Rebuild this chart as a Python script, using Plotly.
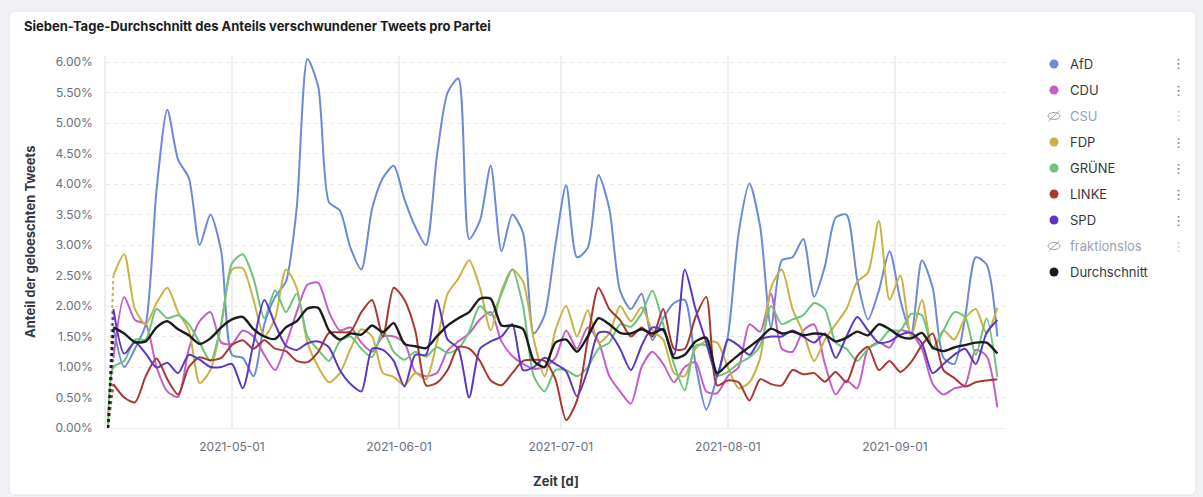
import plotly.graph_objects as go
import pandas as pd

# ---------------- data (values in percent) ----------------
DATES = ["2021-04-08"] + [d.strftime("%Y-%m-%d") for d in
                          pd.date_range("2021-04-09", "2021-09-20", freq="2D")]

AFD = [None,
       1.65, 1.0, 1.3, 1.7, 3.9, 5.22, 4.4, 4.1, 3.0, 3.5, 2.9,
       1.2, 1.15, 0.85, 1.7, 2.15, 2.4, 3.6, 6.05, 5.6, 3.7, 3.57, 2.95, 2.6, 3.6, 4.1, 4.3,
       3.75, 3.3, 3.0, 4.45, 5.5, 5.73, 3.1, 3.4, 4.3, 2.9, 3.5, 3.2, 1.55, 1.85, 3.0,
       3.98, 2.8, 2.95, 4.15, 3.6, 2.25, 1.95, 2.2, 1.44, 1.8, 2.05, 2.1, 1.05, 0.3, 0.85,
       1.5, 3.2, 4.01, 3.3, 1.65, 2.75, 2.8, 3.1, 2.15, 2.65, 3.45, 3.5, 2.43, 1.78, 2.25, 2.9,
       2.1, 1.55, 2.75, 2.3, 1.15, 1.05, 1.8, 2.8, 2.68, 1.5]

CDU = [None,
       1.15, 2.15, 1.77, 1.7, 1.0, 0.6, 0.51, 1.3, 1.75, 1.9, 1.4,
       1.38, 1.6, 1.5, 1.2, 0.95, 1.37, 1.9, 2.35, 2.38, 1.9, 1.6, 1.65, 1.4, 1.25, 1.5, 1.5,
       1.4, 0.92, 0.85, 0.9, 1.27, 1.42, 1.55, 1.78, 1.9, 1.42, 1.18, 1.05, 0.97, 1.0, 1.15,
       1.6, 1.3, 1.65, 1.42, 0.85, 0.6, 0.4, 1.0, 1.25, 1.05, 0.75, 1.0, 1.08, 0.6, 0.57,
       0.85, 1.0, 1.7, 1.58, 2.2, 1.3, 1.25, 1.6, 1.7, 1.05, 0.55, 0.78, 0.65, 1.3, 1.4, 1.32,
       1.6, 1.55, 1.3, 0.72, 0.55, 0.65, 0.7, 1.28, 1.18, 0.34]

FDP = [None,
       2.5, 2.85, 1.95, 1.7, 2.05, 2.3, 1.9, 1.6, 0.74, 0.95, 1.7,
       2.6, 2.62, 2.1, 1.5, 1.8, 2.6, 2.3, 1.4, 1.0, 0.75, 0.9, 1.3, 1.62, 1.5, 0.9, 0.84,
       0.7, 0.9, 0.8, 1.4, 2.2, 2.45, 2.75, 2.3, 1.6, 2.25, 2.6, 2.4, 1.45, 0.85, 1.6,
       2.0, 1.5, 1.93, 1.4, 1.55, 2.0, 1.75, 1.98, 1.6, 1.45, 0.9, 0.85, 1.3, 1.42, 1.4,
       1.0, 0.65, 0.75, 1.15, 2.3, 2.6, 1.95, 1.56, 1.1, 1.45, 1.7, 1.95, 2.4, 2.55, 3.4, 2.1,
       2.5, 1.5, 2.1, 1.3, 1.6, 1.45, 1.8, 1.95, 1.55, 1.97]

GRUENE = [0.0,
          1.0, 1.1, 1.45, 1.45, 1.95, 1.8, 1.85, 1.7, 1.4, 1.1, 1.7,
          2.7, 2.85, 2.45, 1.8, 2.26, 1.9, 2.2, 1.5, 1.28, 1.1, 1.42, 1.5, 1.3, 1.16, 1.6, 1.25,
          1.12, 1.25, 1.17, 1.33, 1.23, 1.3, 1.58, 2.0, 1.85, 2.2, 2.6, 2.0, 0.85, 0.6, 0.95,
          0.95, 0.85, 1.0, 1.3, 1.4, 1.7, 1.66, 1.88, 2.25, 1.7, 1.05, 0.62, 1.35, 1.35, 0.86,
          0.92, 1.06, 1.16, 1.35, 2.0, 1.7, 1.78, 1.85, 2.05, 1.95, 1.4, 1.3, 1.1, 1.3, 1.4, 1.6,
          1.6, 1.87, 1.85, 1.3, 1.6, 1.9, 1.82, 1.2, 1.8, 0.84]

LINKE = [None,
         0.72, 0.5, 0.42, 0.85, 1.14, 0.8, 0.55, 1.0, 1.16, 1.11, 1.15,
         1.36, 1.44, 1.3, 1.44, 1.3, 1.26, 1.1, 1.08, 1.25, 1.56, 1.57, 1.58, 1.9, 2.1, 1.5, 2.3,
         2.1, 1.6, 0.7, 0.74, 0.95, 1.33, 1.3, 1.1, 0.78, 0.7, 0.9, 1.1, 1.12, 1.1, 0.8,
         0.13, 0.45, 1.45, 2.3, 1.95, 1.77, 1.5, 1.65, 1.5, 1.95, 1.3, 1.3, 1.82, 2.15, 0.7,
         0.78, 0.75, 0.45, 0.8, 0.72, 0.7, 0.95, 0.88, 0.9, 0.76, 0.92, 0.75, 1.18, 1.33, 0.95, 1.1,
         0.92, 1.08, 1.36, 1.55, 0.95, 0.82, 0.68, 0.75, 0.78, 0.8]

SPD = [None,
       1.95, 1.22, 1.4, 1.22, 0.99, 1.07, 0.9, 1.2, 1.12, 1.0, 1.0,
       1.05, 0.65, 1.4, 2.1, 1.7, 1.35, 1.28, 1.39, 1.42, 1.32, 0.95, 0.72, 0.6, 1.3, 1.28, 1.1,
       0.68, 1.2, 1.2, 2.1, 1.45, 1.3, 0.5, 1.3, 1.42, 1.5, 1.7, 0.95, 1.0, 1.15, 1.05,
       0.93, 0.52, 0.95, 1.56, 1.56, 1.3, 0.95, 1.35, 1.65, 1.6, 1.2, 2.6, 1.95, 1.4, 0.85,
       1.45, 1.35, 1.2, 1.45, 1.5, 1.5, 1.6, 1.5, 1.4, 1.55, 1.15, 1.5, 1.82, 1.6, 1.4, 1.42,
       1.53, 1.56, 1.39, 0.9, 1.05, 1.2, 1.3, 1.05, 1.56, 1.77]

DURCHSCHNITT = [None,
                1.65, 1.55, 1.41, 1.42, 1.65, 1.75, 1.62, 1.52, 1.38, 1.47, 1.65,
                1.78, 1.82, 1.62, 1.5, 1.46, 1.65, 1.75, 1.96, 1.97, 1.6, 1.45, 1.55, 1.53, 1.68, 1.57, 1.72,
                1.38, 1.34, 1.31, 1.5, 1.68, 1.8, 1.9, 2.12, 2.12, 1.68, 1.68, 1.62, 1.1, 1.0, 1.4,
                1.45, 1.25, 1.5, 1.8, 1.7, 1.56, 1.55, 1.62, 1.55, 1.62, 1.15, 1.2, 1.42, 1.48, 0.9,
                1.05, 1.2, 1.33, 1.47, 1.63, 1.55, 1.58, 1.52, 1.55, 1.53, 1.42, 1.48, 1.58, 1.52, 1.7, 1.62,
                1.5, 1.47, 1.56, 1.32, 1.26, 1.32, 1.36, 1.4, 1.4, 1.22]

SERIES = [
    ("AfD", AFD, "#6b89d9", 2.0),
    ("CDU", CDU, "#c25ec6", 2.0),
    ("FDP", FDP, "#c9b245", 2.0),
    ("GRÜNE", GRUENE, "#6cc47a", 2.0),
    ("LINKE", LINKE, "#a8382f", 2.0),
    ("SPD", SPD, "#5c38c2", 2.0),
    ("Durchschnitt", DURCHSCHNITT, "#1c1c1c", 2.4),
]

LEGEND = [("AfD", "#6b89d9", True), ("CDU", "#c25ec6", True), ("CSU", None, False),
          ("FDP", "#c9b245", True), ("GRÜNE", "#6cc47a", True), ("LINKE", "#a8382f", True),
          ("SPD", "#5c38c2", True), ("fraktionslos", None, False), ("Durchschnitt", "#1c1c1c", True)]

X_RANGE = ["2021-04-07 15:00", "2021-09-21 10:00"]
Y_RANGE = [0, 6.1]

# ---------------- geometry helpers ----------------
W, H = 1203, 497
L, R, T, B = 106, 1005, 56, 428


def px(x):
    return (x - L) / (R - L)


def py(y):
    return (B - y) / (B - T)


fig = go.Figure()

for name, vals, color, lw in SERIES:
    fig.add_trace(go.Scatter(
        x=DATES, y=vals, mode="lines", name=name, showlegend=False,
        line=dict(color=color, width=lw, shape="spline", smoothing=0.7),
        connectgaps=False, hoverinfo="x+y+name"))
    if vals[0] is None:
        fig.add_trace(go.Scatter(
            x=DATES[:2], y=[0, vals[1]], mode="lines", showlegend=False,
            line=dict(color=color, width=lw, dash="3px,3px"), hoverinfo="skip"))

# ---------------- card background ----------------
def rounded_rect(x0, y0, x1, y1, r):
    pts = [
        ("M", [(x0 + r, y0)]), ("L", [(x1 - r, y0)]), ("Q", [(x1, y0), (x1, y0 + r)]),
        ("L", [(x1, y1 - r)]), ("Q", [(x1, y1), (x1 - r, y1)]), ("L", [(x0 + r, y1)]),
        ("Q", [(x0, y1), (x0, y1 - r)]), ("L", [(x0, y0 + r)]), ("Q", [(x0, y0), (x0 + r, y0)]),
    ]
    s = ""
    for cmd, ps in pts:
        s += cmd + " " + " ".join(f"{px(a):.5f},{py(b):.5f}" for a, b in ps) + " "
    return s + "Z"


shapes = [dict(type="path", xref="paper", yref="paper", layer="below",
               path=rounded_rect(9, 11, 1196, 495, 7),
               fillcolor="#ffffff", line=dict(color="#e2e5eb", width=1))]

annotations = [
    dict(text="<b>Sieben-Tage-Durchschnitt des Anteils verschwundener Tweets pro Partei</b>",
         x=px(22), y=py(26), xref="paper", yref="paper", xanchor="left", yanchor="middle",
         showarrow=False, font=dict(family="Inter", size=13, color="#1a1c21")),
    dict(text="<b>Anteil der geloeschten Tweets</b>", x=px(30), y=py(242),
         xref="paper", yref="paper", xanchor="center", yanchor="middle", textangle=-90,
         showarrow=False, font=dict(family="Inter", size=13, color="#343741")),
    dict(text="<b>Zeit [d]</b>", x=px(556), y=py(481), xref="paper", yref="paper",
         xanchor="center", yanchor="middle", showarrow=False,
         font=dict(family="Inter", size=13, color="#343741")),
]

# ---------------- legend (drawn) ----------------
for i, (name, color, visible) in enumerate(LEGEND):
    yc = 64 + 26 * i
    if visible:
        shapes.append(dict(type="circle", xref="paper", yref="paper",
                           x0=px(1049.5), x1=px(1058.5), y0=py(yc + 4.5), y1=py(yc - 4.5),
                           fillcolor=color, line=dict(width=0)))
    else:
        shapes.append(dict(type="circle", xref="paper", yref="paper",
                           x0=px(1048), x1=px(1060), y0=py(yc + 3.5), y1=py(yc - 3.5),
                           fillcolor="rgba(0,0,0,0)", line=dict(color="#98a2b3", width=1)))
        shapes.append(dict(type="line", xref="paper", yref="paper",
                           x0=px(1048.5), x1=px(1059.5), y0=py(yc + 5), y1=py(yc - 5),
                           line=dict(color="#98a2b3", width=1)))
    annotations.append(dict(text=name, x=px(1068), y=py(yc), xref="paper", yref="paper",
                            xanchor="left", yanchor="middle", showarrow=False,
                            font=dict(family="Inter", size=13,
                                      color="#343741" if visible else "#98a2b3")))
    if name != "Durchschnitt":
        annotations.append(dict(text="⋮", x=px(1178), y=py(yc), xref="paper", yref="paper",
                                xanchor="center", yanchor="middle", showarrow=False,
                                font=dict(family="DejaVu Sans", size=13,
                                          color="#69707d" if visible else "#c2c8d2")))

fig.update_layout(
    width=W, height=H,
    margin=dict(l=L, r=W - R, t=T, b=H - B),
    paper_bgcolor="#eff1f4", plot_bgcolor="#ffffff",
    showlegend=False,
    shapes=shapes, annotations=annotations,
    font=dict(family="Inter", size=12, color="#69707d"),
    xaxis=dict(range=X_RANGE, type="date", tick0="2021-05-01", dtick="M1",
               tickformat="%Y-%m-%d", showgrid=True, gridcolor="#eceef2", gridwidth=1.5,
               showline=True, linecolor="#eceef2", linewidth=1, zeroline=False,
               ticks="", ticklabelstandoff=8,
               tickfont=dict(family="Inter", size=12, color="#69707d")),
    yaxis=dict(range=Y_RANGE, dtick=0.5, tick0=0, tickformat=".2f", ticksuffix="%",
               showgrid=True, gridcolor="#e6e9ee", gridwidth=1, griddash="4px,4px",
               showline=True, linecolor="#eceef2", linewidth=1.5, zeroline=False,
               ticks="", ticklabelstandoff=9,
               tickfont=dict(family="Inter", size=12, color="#69707d")),
)

fig.write_html(
    "out.html",
    config={"displayModeBar": False},
    post_script="document.body.style.margin='0';document.body.style.overflow='hidden';"
                "document.body.style.background='#eff1f4';",
)
